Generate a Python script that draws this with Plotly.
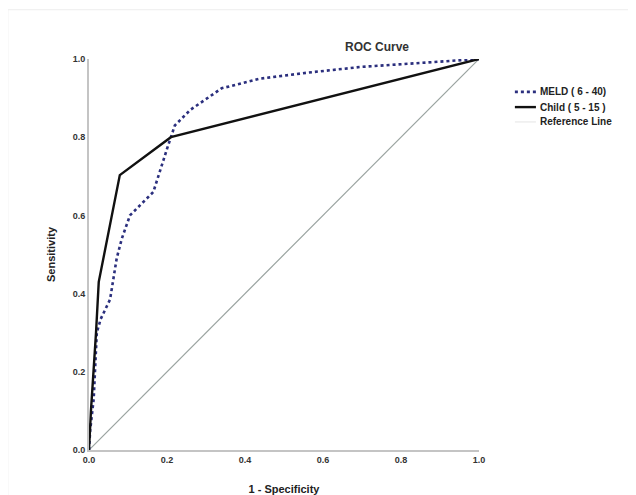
import plotly.graph_objects as go

# MELD (6 - 40) ROC curve
meld_fpr = [0, 0.003, 0.012, 0.02, 0.03, 0.054, 0.071, 0.084, 0.105, 0.13, 0.155,
            0.165, 0.20, 0.22, 0.26, 0.34, 0.44, 0.56, 0.70, 0.85, 1.0]
meld_tpr = [0, 0.05, 0.13, 0.30, 0.335, 0.385, 0.49, 0.54, 0.60, 0.625, 0.65,
            0.66, 0.77, 0.83, 0.87, 0.925, 0.95, 0.965, 0.98, 0.99, 1.0]

# Child (5 - 15) ROC curve
child_fpr = [0, 0.005, 0.018, 0.025, 0.079, 0.21, 1.0]
child_tpr = [0, 0.10, 0.30, 0.43, 0.703, 0.80, 1.0]

# Reference line
ref_x = [0, 1]
ref_y = [0, 1]

series_names = ["MELD ( 6 - 40)", "Child ( 5 - 15 )", "Reference Line"]
tick_vals = [0.0, 0.2, 0.4, 0.6, 0.8, 1.0]
tick_text = ["0.0", "0.2", "0.4", "0.6", "0.8", "1.0"]

FONT = "Arial, Liberation Sans, sans-serif"
MELD_STYLE = dict(color="#2b2f7e", width=2.6, dash="dot")
CHILD_STYLE = dict(color="#111111", width=2.4)
REF_STYLE = dict(color="#9aa3a0", width=1.2)
REF_LEGEND_STYLE = dict(color="#e4e4e4", width=1)

fig = go.Figure()
fig.add_trace(go.Scatter(x=ref_x, y=ref_y, mode="lines", name=series_names[2],
                         line=REF_STYLE, cliponaxis=False))
fig.add_trace(go.Scatter(x=meld_fpr, y=meld_tpr, mode="lines", name=series_names[0],
                         line=MELD_STYLE, cliponaxis=False))
fig.add_trace(go.Scatter(x=child_fpr, y=child_tpr, mode="lines", name=series_names[1],
                         line=CHILD_STYLE, cliponaxis=False))

axis_common = dict(
    range=[0, 1], showgrid=False, zeroline=False, showline=True, automargin=False,
    linecolor="#c4c4c4", linewidth=2, ticks="", tickvals=tick_vals,
    ticktext=["<b>%s</b>" % t for t in tick_text],
    tickfont=dict(family=FONT, size=9, color="#333333"),
)

# manual legend (compact, like the original)
leg_x0, leg_x1, leg_tx = 1.092, 1.146, 1.152
leg_rows = [0.916, 0.877, 0.839]
leg_styles = [MELD_STYLE, CHILD_STYLE, REF_LEGEND_STYLE]
shapes = [dict(type="rect", xref="paper", yref="paper", x0=-0.208, x1=1.5, y0=-0.2, y1=1.126,
               line=dict(color="#eeeeee", width=1), fillcolor="rgba(0,0,0,0)")]
annotations = [dict(text="<b>ROC Curve</b>", x=0.738, y=1.031, xref="paper", yref="paper",
                    xanchor="center", yanchor="middle", showarrow=False,
                    font=dict(family=FONT, size=12, color="#333333"))]
for name, yy, st in zip(series_names, leg_rows, leg_styles):
    shapes.append(dict(type="line", xref="paper", yref="paper", x0=leg_x0, x1=leg_x1,
                       y0=yy, y1=yy, line=st))
    annotations.append(dict(text="<b>%s</b>" % name, x=leg_tx, y=yy, xref="paper", yref="paper",
                            xanchor="left", yanchor="middle", showarrow=False,
                            font=dict(family=FONT, size=10, color="#222222")))

fig.update_layout(
    width=636, height=495,
    margin=dict(l=81, r=165, t=51, b=53),
    paper_bgcolor="white", plot_bgcolor="white",
    font=dict(family=FONT, color="#222222"),
    showlegend=False,
    xaxis=dict(**axis_common,
               title=dict(text="<b>1 - Specificity</b>", font=dict(family=FONT, size=11, color="#222222"),
                          standoff=22)),
    yaxis=dict(**axis_common,
               title=dict(text="<b>Sensitivity</b>", font=dict(family=FONT, size=11, color="#222222"),
                          standoff=15)),
    annotations=annotations,
    shapes=shapes,
)

fig.write_html("out.html")
